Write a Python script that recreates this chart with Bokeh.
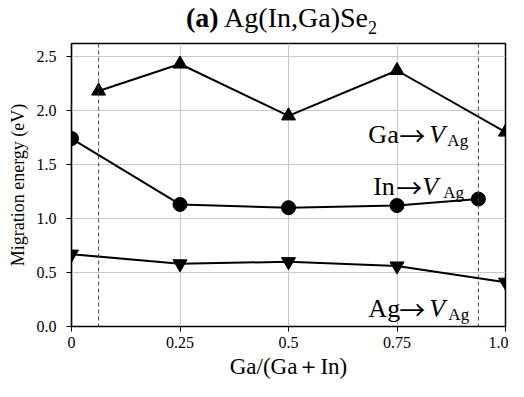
from bokeh.plotting import figure
from bokeh.models import Label, Span, Range1d, FixedTicker, Div
from bokeh.layouts import column
from bokeh.embed import file_html
from bokeh.resources import INLINE

# ---- data ----
ga_x = [0.0625, 0.25, 0.5, 0.75, 1.0]
ga_y = [2.18, 2.43, 1.95, 2.37, 1.80]
in_x = [0.0, 0.25, 0.5, 0.75, 0.9375]
in_y = [1.74, 1.13, 1.10, 1.12, 1.18]
ag_x = [0.0, 0.25, 0.5, 0.75, 1.0]
ag_y = [0.67, 0.58, 0.60, 0.56, 0.41]
dashed_x = [0.0625, 0.9375]
x_ticks = [0, 0.25, 0.5, 0.75, 1.0]
x_tick_labels = ["0", "0.25", "0.5", "0.75", "1.0"]
y_ticks = [0.0, 0.5, 1.0, 1.5, 2.0, 2.5]
y_tick_labels = ["0.0", "0.5", "1.0", "1.5", "2.0", "2.5"]

FONT = "Liberation Serif"
ARROW_FONT = "Noto Sans CJK JP"

title_html = ('<div style="font-family:\'Liberation Serif\',serif;font-size:28px;'
              'line-height:32px;padding-top:2px;padding-left:186px;text-align:left;'
              'white-space:nowrap;color:black;">'
              '<b>(a)</b> Ag(In,Ga)Se<sub style="font-size:18px;line-height:0;">2</sub></div>')
title = Div(text=title_html, width=508, height=36, margin=(0, 0, 0, 0))

p = figure(width=508, height=345, output_backend="svg", toolbar_location=None,
           x_range=Range1d(0, 1.0), y_range=Range1d(0, 2.62),
           min_border_left=71, min_border_right=3, min_border_top=7, min_border_bottom=0,
           margin=(0, 0, 0, 0))

p.outline_line_color = "black"
p.outline_line_width = 1.5
p.background_fill_color = "white"
p.border_fill_color = "white"

for ax in (p.xaxis[0], p.yaxis[0]):
    ax.axis_line_color = "black"
    ax.axis_line_width = 1.2
    ax.major_tick_line_color = "black"
    ax.major_tick_out = 5
    ax.major_tick_in = 0
    ax.minor_tick_line_color = None
    ax.major_label_text_font = FONT
    ax.major_label_text_font_size = "16px"
    ax.major_label_text_color = "black"
    ax.axis_label_text_font = FONT
    ax.axis_label_text_font_style = "normal"
    ax.axis_label_text_color = "black"

p.xaxis.ticker = FixedTicker(ticks=x_ticks)
p.xaxis.major_label_overrides = {t: l for t, l in zip(x_ticks, x_tick_labels)}
p.yaxis.ticker = FixedTicker(ticks=y_ticks)
p.yaxis.major_label_overrides = {t: l for t, l in zip(y_ticks, y_tick_labels)}
p.xaxis.major_label_standoff = 5
p.yaxis.major_label_standoff = 10
p.xaxis.axis_label = "Ga/(Ga\uff0bIn)"
p.xaxis.axis_label_text_font_size = "23px"
p.xaxis.axis_label_standoff = 3
p.yaxis.axis_label = "Migration energy (eV)"
p.yaxis.axis_label_text_font_size = "18px"
p.yaxis.axis_label_standoff = 6

p.grid.grid_line_color = "#c8c8c8"
p.grid.grid_line_width = 1

for dx in dashed_x:
    p.add_layout(Span(location=dx, dimension="height", line_color="#444444",
                      line_width=1, line_dash="4 3"))

p.line(ga_x, ga_y, line_color="black", line_width=2)
p.scatter(ga_x, ga_y, marker="triangle", size=14, color="black")
p.line(in_x, in_y, line_color="black", line_width=2)
p.scatter(in_x, in_y, marker="circle", size=14, color="black")
p.line(ag_x, ag_y, line_color="black", line_width=2)
p.scatter(ag_x, ag_y, marker="inverted_triangle", size=14, color="black")


def lab(x, y, text, size, dx=0, dy=0, style="normal", font=FONT):
    p.add_layout(Label(x=x, y=y, x_offset=dx, y_offset=dy, text=text,
                       text_font=font, text_font_size=size, text_font_style=style,
                       text_color="black", text_align="left", text_baseline="alphabetic"))


# series labels: head, arrow, italic V, subscript Ag
def series_label(x, y, head, arrow_dx, v_dx, sub_dx):
    lab(x, y, head, "26px", 0, 0)
    lab(x, y, "\u2192", "26px", arrow_dx, 0, font=ARROW_FONT)
    lab(x, y, "V", "26px", v_dx, 0, "italic")
    lab(x, y, "Ag", "17px", sub_dx, -6)

series_label(0.684, 1.78, "Ga", 31, 61, 79)
series_label(0.695, 1.30, "In", 23, 49, 70)
series_label(0.684, 0.164, "Ag", 31, 61, 80)

layout = column(title, p, spacing=0)
open("out.html", "w").write(file_html(layout, INLINE))
